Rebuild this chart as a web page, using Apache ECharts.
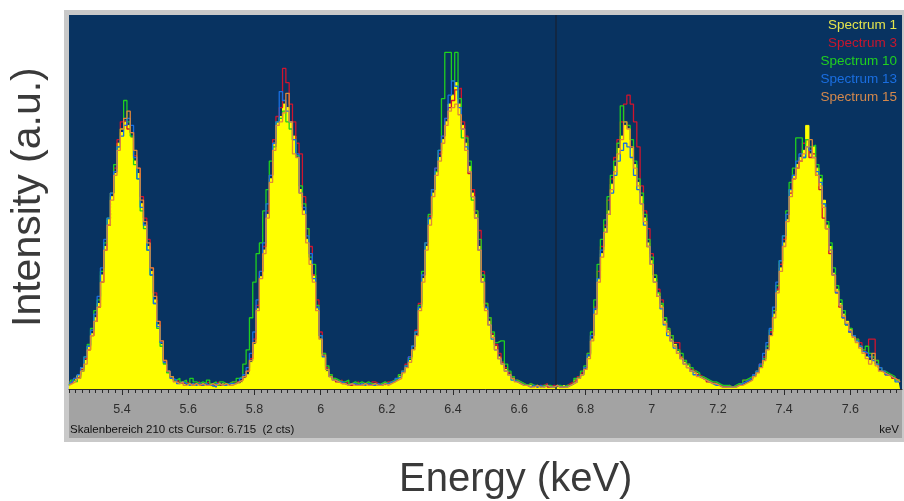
<!DOCTYPE html>
<html>
<head>
	<meta charset="utf-8">
	<title>EDS spectra</title>
	<script src="https://cdn.jsdelivr.net/npm/echarts@6/dist/echarts.min.js"></script>
	<style>
		html, body { margin: 0; padding: 0; background: #fff; }
		#main { width: 904px; height: 501px; }
	</style>
</head>
<body>
	<div id="main"></div>
	<script>
		// channel scale: 10 eV bins starting at 5.24 keV
		var channelStart = 5.24;
		var channelWidth = 0.01;
		var fullScale = 210;      // Skalenbereich 210 cts
		var cursorEnergy = 6.715;
		var tickLabels = [5.4, 5.6, 5.8, 6, 6.2, 6.4, 6.6, 6.8, 7, 7.2, 7.4, 7.6];

		var spectrum1 = [
			3,4,5,8,12,16,24,31,40,48,
			64,80,95,108,121,138,144,150,148,141,
			128,121,104,92,80,66,50,36,25,14,
			9,6,4,3,3,2,2,3,2,2,
			3,2,2,1,2,2,3,2,2,3,
			3,3,4,6,8,15,25,45,63,78,
			98,118,138,150,153,160,158,150,142,130,
			112,100,84,72,64,45,28,18,10,7,
			5,4,3,3,2,3,2,2,3,2,
			2,3,2,2,3,2,3,3,4,5,
			7,9,12,16,22,30,45,62,80,95,
			110,122,130,140,150,160,165,172,160,148,
			138,125,110,98,80,62,45,38,30,24,
			18,15,11,8,6,4,3,2,2,2,
			1,2,1,2,1,1,2,1,1,2,
			1,2,3,5,6,8,11,18,28,44,
			62,76,90,100,115,125,135,142,148,146,
			135,126,116,108,96,82,72,62,54,47,
			38,33,28,25,21,18,15,13,11,9,
			8,6,5,4,3,3,2,1,1,1,
			1,1,2,2,3,4,5,7,9,12,
			16,22,30,42,55,68,82,95,112,120,
			126,130,134,148,132,136,124,118,106,92,
			80,65,56,48,42,38,34,30,27,24,
			21,18,16,17,14,10,9,8,7,6,
			5,5
		];
		var spectrum3 = [
			4,3,6,7,11,17,22,30,38,46,
			60,78,92,110,124,140,150,151,146,144,
			131,124,108,96,84,68,54,38,27,16,
			10,7,5,4,3,4,3,2,3,4,
			2,3,4,2,3,4,2,3,3,4,
			4,4,5,7,10,17,28,47,66,80,
			100,120,140,153,158,180,172,160,150,138,
			132,108,90,80,64,50,32,20,12,8,
			6,4,5,3,4,2,3,4,2,3,
			3,2,4,3,2,3,4,4,5,6,
			8,10,14,18,24,33,48,64,82,97,
			112,124,132,142,152,158,162,168,169,150,
			142,121,112,100,89,66,48,40,31,25,
			20,15,12,9,7,5,4,3,2,3,
			2,1,2,2,3,1,2,2,1,1,
			2,3,4,5,7,9,12,20,30,46,
			66,80,92,106,118,130,140,150,160,165,
			160,150,136,114,100,90,76,64,56,50,
			40,34,30,26,26,18,16,14,11,10,
			8,7,6,4,4,3,2,2,1,2,
			1,2,2,3,5,5,6,8,10,14,
			18,24,32,44,56,70,84,98,110,118,
			124,128,138,140,130,132,120,112,96,90,
			76,64,54,46,40,36,32,30,28,26,
			22,20,28,28,16,12,10,8,8,6,
			5,4
		];
		var spectrum10 = [
			2,5,4,6,10,18,25,34,44,50,
			66,82,96,110,126,136,146,162,150,142,
			126,118,100,90,78,64,48,34,24,14,
			9,7,5,6,4,5,3,6,4,3,
			4,3,5,3,4,2,4,3,3,4,
			4,6,7,14,22,40,60,76,82,100,
			112,128,136,150,152,156,150,146,140,131,
			114,104,90,74,70,47,30,20,13,8,
			6,5,4,4,5,3,4,3,4,3,
			4,3,3,2,3,4,3,4,5,6,
			8,10,13,17,24,32,47,66,82,98,
			112,122,134,163,189,189,173,189,163,141,
			141,128,106,100,84,64,48,40,32,26,
			27,27,14,10,7,5,4,3,2,3,
			2,2,1,2,2,2,1,2,2,1,
			2,2,3,6,7,10,13,20,32,50,
			70,84,95,108,120,128,138,159,150,148,
			140,128,118,110,98,84,74,64,54,48,
			40,34,30,24,22,20,16,14,12,10,
			9,7,6,5,4,4,3,2,2,2,
			1,2,3,3,5,6,7,8,10,13,
			17,24,33,44,58,72,86,100,116,124,
			141,141,130,140,136,137,126,120,104,94,
			82,68,58,50,44,36,34,30,28,24,
			22,24,20,18,16,12,10,9,8,7,
			5,5
		];
		var spectrum13 = [
			3,4,6,8,12,18,24,33,42,52,
			68,84,96,110,122,136,142,148,152,148,
			130,118,102,92,78,64,48,35,26,15,
			10,6,5,3,4,3,2,3,2,3,
			2,3,2,2,1,3,2,2,3,3,
			3,4,6,8,12,20,32,50,66,82,
			104,120,138,150,167,162,156,150,140,132,
			110,102,86,76,62,46,30,18,11,7,
			5,4,4,3,2,3,3,2,3,2,
			3,2,2,3,2,3,3,4,4,6,
			7,10,13,18,24,32,46,64,82,96,
			112,124,134,142,152,165,173,170,158,146,
			136,122,108,96,78,60,46,36,28,22,
			17,14,10,8,5,4,3,2,2,1,
			2,1,2,1,2,1,1,2,1,1,
			1,2,3,4,6,8,12,19,30,45,
			62,78,88,98,110,120,128,134,138,136,
			130,120,112,104,92,80,70,60,52,45,
			36,30,27,23,20,17,14,12,10,8,
			7,6,5,4,3,2,2,1,1,1,
			1,1,2,3,4,5,6,8,10,14,
			20,26,34,46,60,72,86,98,112,120,
			128,132,130,136,134,130,122,116,104,90,
			78,64,54,47,40,36,32,30,27,24,
			21,20,18,16,14,12,10,8,7,6,
			4,4
		];
		var spectrum15 = [
			2,3,4,6,10,14,22,30,38,46,
			60,78,92,106,120,134,146,152,156,144,
			134,124,106,94,82,68,52,38,27,16,
			10,7,4,3,4,2,3,2,3,2,
			3,2,2,3,2,3,2,3,2,2,
			3,4,5,7,10,16,26,44,62,76,
			96,116,134,148,150,155,166,150,132,130,
			110,98,82,70,60,44,28,19,11,7,
			5,4,3,3,2,3,2,2,2,3,
			2,2,3,2,2,3,2,3,4,5,
			6,9,12,15,22,30,44,60,78,92,
			108,120,128,138,148,156,158,160,154,146,
			134,122,108,96,78,60,44,36,29,22,
			17,14,10,8,6,4,3,2,2,1,
			1,2,1,1,2,1,1,2,1,1,
			1,2,3,4,6,8,11,17,27,42,
			60,74,88,98,112,122,132,140,150,146,
			136,124,114,104,94,80,70,60,52,46,
			37,32,27,24,20,17,14,12,10,9,
			7,6,5,4,3,3,2,1,1,1,
			1,1,2,2,3,4,5,7,9,12,
			16,22,30,40,54,66,80,94,108,118,
			124,128,132,136,140,130,120,114,102,90,
			78,64,55,47,41,37,33,29,26,23,
			20,17,14,20,13,10,9,8,7,6,
			5,4
		];

		var seriesNames = ['Spectrum 1', 'Spectrum 3', 'Spectrum 10', 'Spectrum 13', 'Spectrum 15'];
		var lineColors = ['#ffff00', '#d0142e', '#1fd01f', '#1a6fe0', '#e08838'];
		var legendColors = ['#e4e44c', '#c8162e', '#20d020', '#1a6ee0', '#d4884c'];

		function toPairs(arr) {
			var out = [];
			for (var i = 0; i < arr.length; i++) {
				out.push([+(channelStart + i * channelWidth).toFixed(2), arr[i]]);
			}
			return out;
		}

		// 20 eV tick marks along the energy axis
		var smallTicks = [];
		for (var t = 5.24; t < 7.76; t += 0.02) smallTicks.push(+t.toFixed(2));

		var myChart = echarts.init(document.getElementById('main'), null, { renderer: 'canvas' });

		var xMin = channelStart;
		var xMax = 7.756;
		var font = 'Liberation Sans, Arial, sans-serif';

		var allData = [spectrum1, spectrum3, spectrum10, spectrum13, spectrum15];
		var series = [];
		for (var k = 0; k < allData.length; k++) {
			var s = {
				name: seriesNames[k],
				type: 'line',
				step: 'middle',
				showSymbol: false,
				data: toPairs(allData[k]),
				lineStyle: { color: lineColors[k], width: k === 0 ? 1 : 1.3 },
				itemStyle: { color: lineColors[k] },
				z: 2 + k
			};
			if (k === 0) {
				s.areaStyle = { color: '#ffff00', opacity: 1 };
			}
			series.push(s);
		}
		// cursor line
		series.push({
			type: 'line',
			data: [],
			z: 10,
			markLine: {
				silent: true,
				symbol: 'none',
				label: { show: false },
				lineStyle: { color: '#14253a', width: 1.5, type: 'solid' },
				data: [{ xAxis: cursorEnergy }]
			}
		});

		var option = {
			animation: false,
			backgroundColor: '#ffffff',
			grid: {
				left: 69, top: 15, width: 833, height: 374,
				show: true, backgroundColor: '#083361', borderWidth: 0
			},
			legend: {
				orient: 'vertical',
				right: -3,
				top: 13,
				align: 'right',
				itemWidth: 0,
				itemHeight: 0,
				itemGap: 4,
				selectedMode: false,
				data: seriesNames.map(function (n, i) {
					return { name: n, icon: 'none', textStyle: { color: legendColors[i] } };
				}),
				textStyle: { fontSize: 13.5, fontFamily: font, padding: 0 }
			},
			xAxis: [{
				type: 'value',
				min: xMin,
				max: xMax,
				splitLine: { show: false },
				axisLine: { show: true, onZero: false, lineStyle: { color: '#2a2a2a', width: 1 } },
				axisTick: { show: true, customValues: tickLabels, length: 6, lineStyle: { color: '#2a2a2a' } },
				axisLabel: {
					customValues: tickLabels,
					margin: 14,
					fontSize: 12.5,
					color: '#2e2e2e',
					fontFamily: font
				}
			}, {
				type: 'value',
				min: xMin,
				max: xMax,
				position: 'bottom',
				splitLine: { show: false },
				axisLine: { show: false },
				axisLabel: { show: false },
				axisTick: { show: true, customValues: smallTicks, length: 4, lineStyle: { color: '#2a2a2a' } }
			}],
			yAxis: {
				type: 'value',
				min: 0,
				max: fullScale,
				show: false
			},
			graphic: [
				{ type: 'rect', z: -10, shape: { x: 64, y: 10, width: 840, height: 432 }, style: { fill: '#c9c9c9' } },
				{ type: 'rect', z: -9, shape: { x: 69, y: 15, width: 833, height: 423 }, style: { fill: '#a3a3a3' } },
				{ type: 'text', left: 70, top: 424, style: { text: 'Skalenbereich 210 cts Cursor: 6.715  (2 cts)', fill: '#111', font: '11.5px ' + font } },
				{ type: 'text', right: 5, top: 424, style: { text: 'keV', fill: '#111', font: '11.5px ' + font } },
				{ type: 'text', left: 399, top: 460, style: { text: 'Energy (keV)', fill: '#3a3a3a', font: '40px ' + font } },
				{ type: 'text', x: 8, y: 327, rotation: Math.PI / 2, style: { text: 'Intensity (a.u.)', fill: '#3a3a3a', font: '41px ' + font } }
			],
			series: series
		};

		myChart.setOption(option);
	</script>
</body>
</html>
